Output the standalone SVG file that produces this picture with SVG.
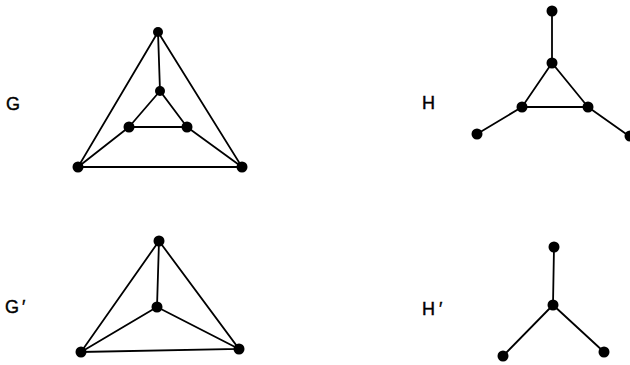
<svg xmlns="http://www.w3.org/2000/svg" width="630" height="365" viewBox="0 0 630 365">
<style>
.e{stroke:#000;stroke-width:1.8;fill:none;stroke-linecap:round}
.n{fill:#000}
.l{font-family:"Liberation Sans",Arial,sans-serif;font-size:18px;fill:#000;stroke:#000;stroke-width:0.4}
</style>
<rect width="630" height="365" fill="#fff"/>
<g id="connectors">
<path class="e" d="M158,32 L78,167 L242,167 Z M158,32 L160,91 M160,91 L129,127 L187,127 Z M129,127 L78,167 M187,127 L242,167"/>
<path class="e" d="M552,11 L552,63 M552,63 L522,107 L588,107 Z M522,107 L477,134 M588,107 L629,136"/>
<path class="e" d="M159,241 L81,352 L239,349 Z M159,241 L157,307 M157,307 L81,352 M157,307 L239,349"/>
<path class="e" d="M554,247 L553,305 M553,305 L503,356 M553,305 L604,352"/>
</g>
<g id="G">
<text class="l" x="6" y="110">G</text>
<circle class="n" cx="158" cy="32" r="5"/>
<circle class="n" cx="160" cy="91" r="5"/>
<circle class="n" cx="129" cy="127" r="5.5"/>
<circle class="n" cx="187" cy="127" r="5.5"/>
<circle class="n" cx="78" cy="167" r="5.5"/>
<circle class="n" cx="242" cy="167" r="5.5"/>
</g>
<g id="H">
<text class="l" x="422" y="109">H</text>
<circle class="n" cx="552" cy="11" r="5.5"/>
<circle class="n" cx="552" cy="63" r="5.5"/>
<circle class="n" cx="522" cy="107" r="5.5"/>
<circle class="n" cx="588" cy="107" r="5.5"/>
<circle class="n" cx="477" cy="134" r="5.5"/>
<circle class="n" cx="630" cy="136" r="5.5"/>
</g>
<g id="Gp">
<text class="l" x="5" y="313">G<tspan dx="3">′</tspan></text>
<circle class="n" cx="159" cy="241" r="5.5"/>
<circle class="n" cx="157" cy="307" r="5.5"/>
<circle class="n" cx="81" cy="352" r="5.5"/>
<circle class="n" cx="239" cy="349" r="5.5"/>
</g>
<g id="Hp">
<text class="l" x="422" y="315">H<tspan dx="4">′</tspan></text>
<circle class="n" cx="554" cy="247" r="5.5"/>
<circle class="n" cx="553" cy="305" r="5.5"/>
<circle class="n" cx="503" cy="356" r="5.5"/>
<circle class="n" cx="604" cy="352" r="5.5"/>
</g>
</svg>
